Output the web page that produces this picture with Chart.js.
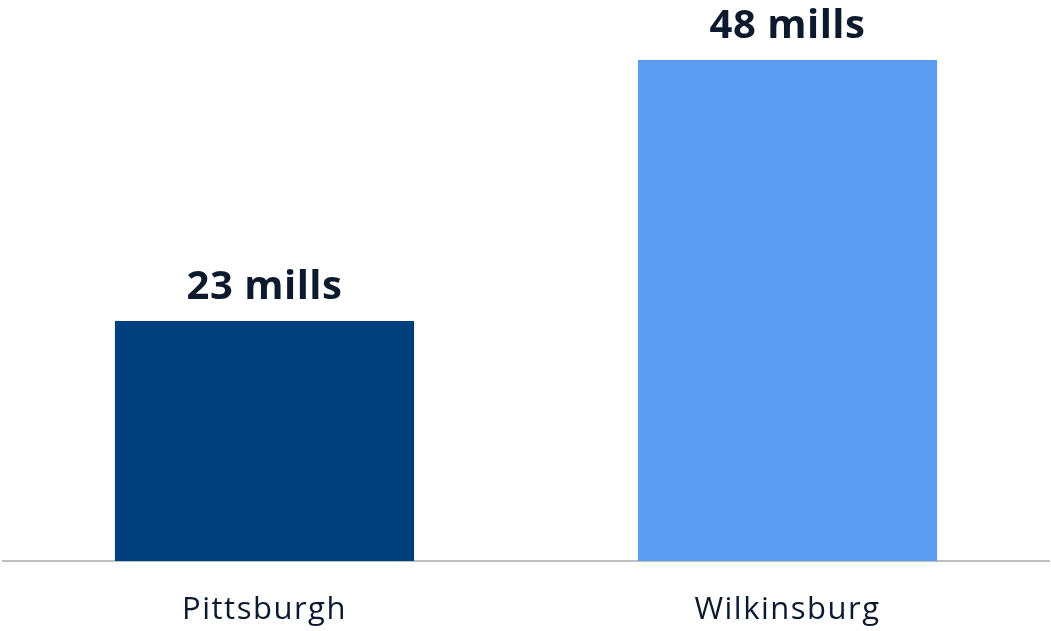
<!DOCTYPE html>
<html lang="en">
<head>
  <meta charset="UTF-8" />
  <title>Millage Rates</title>
  <script src="https://cdn.jsdelivr.net/npm/chart.js"></script>
  <style>
    html, body { margin: 0; padding: 0; background: #fff; }
    #wrap { width: 1051px; height: 631px; }
  </style>
</head>
<body>
  <div id="wrap"><canvas id="millChart" width="1051" height="631"></canvas></div>

  <script>
    // Millage by municipality
    const places = ['Pittsburgh', 'Wilkinsburg'];
    const mills = [23, 48];
    const barColors = ['#003F7D', '#5B9BF0'];

    const FONT = '"Open Sans", "DejaVu Sans", sans-serif';
    const TEXT = '#0D1A2E';

    // wider tracking for the category labels
    const spacing = {
      id: 'spacing',
      beforeDraw(chart) { chart.ctx.letterSpacing = '1.5px'; }
    };

    // value labels above each bar
    const valueLabels = {
      id: 'valueLabels',
      afterDatasetsDraw(chart) {
        const ctx = chart.ctx;
        const meta = chart.getDatasetMeta(0);
        ctx.save();
        ctx.letterSpacing = '0.5px';
        ctx.font = 'bold 40px ' + FONT;
        ctx.fillStyle = TEXT;
        ctx.textAlign = 'center';
        ctx.textBaseline = 'alphabetic';
        meta.data.forEach((bar, i) => {
          ctx.fillText(mills[i] + ' mills', bar.x, bar.y - 22);
        });
        ctx.restore();
      }
    };

    new Chart(document.getElementById('millChart'), {
      type: 'bar',
      data: {
        labels: places,
        datasets: [{
          data: mills,
          backgroundColor: barColors,
          borderWidth: 0,
          categoryPercentage: 1,
          barPercentage: 0.572
        }]
      },
      options: {
        responsive: false,
        animation: false,
        layout: { padding: { top: 60, left: 3, right: 2, bottom: 0 } },
        plugins: {
          legend: { display: false },
          tooltip: { enabled: false }
        },
        scales: {
          x: {
            grid: { display: false },
            border: { display: true, color: '#BFBFBF', width: 2 },
            ticks: {
              color: TEXT,
              font: { family: FONT, size: 31 },
              padding: 23
            },
            afterFit(scale) { scale.height = 70; }
          },
          y: {
            display: false,
            min: 0,
            max: 48
          }
        }
      },
      plugins: [spacing, valueLabels]
    });
  </script>
</body>
</html>
